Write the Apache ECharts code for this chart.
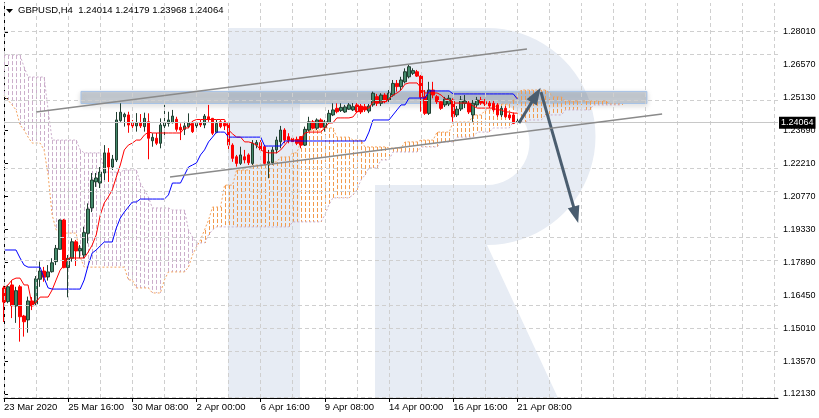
<!DOCTYPE html>
<html><head><meta charset="utf-8">
<script src="https://cdn.jsdelivr.net/npm/echarts/dist/echarts.min.js"></script>
<style>html,body{margin:0;padding:0;background:#fff}#c{width:819px;height:418px}</style>
</head><body><div id="c"></div>
<script>
// ---------- tick labels ----------
const xTickLabels = ['23 Mar 2020','25 Mar 16:00','30 Mar 08:00','2 Apr 00:00','6 Apr 16:00','9 Apr 08:00','14 Apr 00:00','16 Apr 16:00','21 Apr 08:00'];
const yTickValues = [1.1213,1.1357,1.1501,1.1645,1.1789,1.1933,1.2077,1.2221,1.2365,1.2509,1.2653,1.2797];
const yTickLabels = ['1.12130','1.13570','1.15010','1.16450','1.17890','1.19330','1.20770','1.22210','1.23690','1.25130','1.26570','1.28010'];

// ---------- candles (H4 bars) ----------
const opens = [1.1677,1.1617,1.1690,1.1598,1.1682,1.1554,1.1537,1.1620,1.1607,1.1715,
1.1751,1.1725,1.1748,1.1792,1.1846,1.1974,1.1766,1.1807,1.1879,1.1839,
1.1821,1.1916,1.2027,1.2141,1.2136,1.2180,1.2268,1.2206,1.2237,1.2409,
1.2426,1.2434,1.2400,1.2386,1.2399,1.2383,1.2404,1.2321,1.2332,1.2310,
1.2386,1.2397,1.2400,1.2415,1.2380,1.2371,1.2383,1.2397,1.2386,1.2399,
1.2390,1.2426,1.2419,1.2358,1.2404,1.2397,1.2397,1.2302,1.2251,1.2222,
1.2251,1.2259,1.2222,1.2302,1.2313,1.2295,1.2222,1.2225,1.2281,1.2317,
1.2368,1.2339,1.2332,1.2327,1.2339,1.2302,1.2368,1.2404,1.2376,1.2412,
1.2380,1.2400,1.2434,1.2463,1.2453,1.2447,1.2459,1.2456,1.2478,1.2473,
1.2470,1.2451,1.2478,1.2514,1.2485,1.2521,1.2499,1.2521,1.2572,1.2558,
1.2579,1.2601,1.2616,1.2623,1.2604,1.2514,1.2441,1.2543,1.2514,1.2492,
1.2478,1.2482,1.2499,1.2434,1.2460,1.2485,1.2485,1.2434,1.2478,1.2499,
1.2492,1.2486,1.2485,1.2478,1.2434,1.2463,1.2434,1.2434,1.24014];
const closes = [1.1615,1.1682,1.1599,1.1665,1.1551,1.1529,1.1620,1.1598,1.1717,1.1751,
1.1724,1.1747,1.1787,1.1850,1.1974,1.1766,1.1807,1.1879,1.1839,1.1850,
1.1919,1.2022,1.2149,1.2158,1.2184,1.2268,1.2206,1.2241,1.2412,1.2446,
1.2437,1.2390,1.2386,1.2400,1.2386,1.2419,1.2332,1.2336,1.2310,1.2390,
1.2400,1.2412,1.2429,1.2371,1.2368,1.2386,1.2400,1.2361,1.2397,1.2390,
1.2429,1.2415,1.2354,1.2397,1.2383,1.2386,1.2302,1.2244,1.2222,1.2259,
1.2237,1.2225,1.2310,1.2313,1.2281,1.2222,1.2229,1.2281,1.2324,1.2368,
1.2324,1.2324,1.2317,1.2310,1.2302,1.2371,1.2404,1.2376,1.2412,1.2380,
1.2404,1.2441,1.2456,1.2448,1.2467,1.2469,1.2478,1.2470,1.2448,1.2447,
1.2456,1.2473,1.2529,1.2485,1.2521,1.2492,1.2529,1.2572,1.2558,1.2587,
1.2623,1.2645,1.2628,1.2604,1.2511,1.2441,1.2543,1.2521,1.2492,1.2463,
1.2504,1.2507,1.2426,1.2459,1.2499,1.2495,1.2447,1.2485,1.2499,1.2486,
1.2482,1.2473,1.2456,1.2434,1.2463,1.2426,1.2421,1.2397,1.24064];
const lows = [1.1528,1.1610,1.1545,1.1524,1.1442,1.1464,1.1481,1.1580,1.1602,1.1682,
1.1704,1.1709,1.1744,1.1777,1.1843,1.1763,1.1636,1.1792,1.1773,1.1807,
1.1807,1.1872,1.2009,1.2119,1.2114,1.2149,1.2141,1.2193,1.2228,1.2404,
1.2383,1.2356,1.2376,1.2361,1.2377,1.2361,1.2240,1.2295,1.2302,1.2288,
1.2346,1.2383,1.2397,1.2361,1.2324,1.2346,1.2376,1.2355,1.2376,1.2381,
1.2376,1.2404,1.2346,1.2354,1.2376,1.2368,1.2281,1.2229,1.2208,1.2215,
1.2222,1.2215,1.2215,1.2288,1.2273,1.2215,1.2157,1.2215,1.2266,1.2288,
1.2310,1.2310,1.2302,1.2302,1.2288,1.2298,1.2361,1.2371,1.2368,1.2376,
1.2361,1.2397,1.2429,1.2441,1.2447,1.2443,1.2456,1.2451,1.2442,1.2438,
1.2447,1.2442,1.2470,1.2473,1.2473,1.2485,1.2491,1.2514,1.2536,1.2543,
1.2572,1.2594,1.2609,1.2600,1.2448,1.2434,1.2434,1.2507,1.2482,1.2456,
1.2469,1.2473,1.2404,1.2425,1.2451,1.2464,1.2438,1.2404,1.2469,1.2478,
1.2473,1.2464,1.2447,1.2425,1.2425,1.2421,1.2412,1.2394,1.23968];
const highs = [1.1686,1.1690,1.1712,1.1682,1.1690,1.1559,1.1639,1.1637,1.1729,1.1792,
1.1769,1.1777,1.1807,1.1865,1.1977,1.1979,1.1821,1.1894,1.1887,1.1865,
1.1945,1.2047,1.2180,1.2180,1.2206,1.2302,1.2289,1.2259,1.2447,1.2485,
1.2444,1.2448,1.2412,1.2442,1.2438,1.2444,1.2441,1.2354,1.2355,1.2419,
1.2478,1.2448,1.2456,1.2426,1.2397,1.2404,1.2441,1.2407,1.2404,1.2412,
1.2438,1.2478,1.2421,1.2412,1.2412,1.2408,1.2400,1.2310,1.2259,1.2295,
1.2281,1.2266,1.2324,1.2324,1.2324,1.2302,1.2281,1.2295,1.2339,1.2386,
1.2376,1.2354,1.2339,1.2339,1.2341,1.2383,1.2426,1.2412,1.2419,1.2419,
1.2412,1.2456,1.2485,1.2485,1.2485,1.2478,1.2486,1.2486,1.2486,1.2482,
1.2482,1.2482,1.2536,1.2526,1.2529,1.2529,1.2543,1.2587,1.2587,1.2601,
1.2638,1.2653,1.2638,1.2631,1.2609,1.2543,1.2579,1.2579,1.2521,1.2499,
1.2513,1.2521,1.2507,1.2473,1.2517,1.2521,1.2495,1.2499,1.2513,1.2513,
1.2504,1.2495,1.2495,1.2486,1.2473,1.2473,1.2443,1.2443,1.24179];

// ---------- Ichimoku lines ----------
const tenkan = [1.1677,1.1690,1.1712,1.1720,1.1720,1.1690,1.1690,1.1602,1.1615,1.1637,
1.1637,1.1637,1.1668,1.1712,1.1755,1.1777,1.1808,1.1808,1.1808,1.1808,
1.1808,1.1834,1.1865,1.1909,1.1996,1.2049,1.2075,1.2106,1.2162,1.2215,
1.2281,1.2302,1.2311,1.2324,1.2324,1.2346,1.2359,1.2355,1.2355,1.2355,
1.2355,1.2355,1.2355,1.2355,1.2355,1.2377,1.2377,1.2407,1.2414,1.2414,
1.2414,1.2414,1.2414,1.2414,1.2414,1.2414,1.2368,1.2351,1.2337,1.2337,
1.2316,1.2316,1.2311,1.2302,1.2281,1.2272,1.2268,1.2268,1.2268,1.2281,
1.2302,1.2324,1.2324,1.2324,1.2324,1.2355,1.2359,1.2359,1.2359,1.2359,
1.2377,1.2399,1.2399,1.2421,1.2421,1.2421,1.2421,1.2425,1.2447,1.2456,
1.2464,1.2464,1.2491,1.2491,1.2491,1.2491,1.2504,1.2521,1.2530,1.2543,
1.2569,1.2574,1.2574,1.2574,1.2552,1.2530,1.2530,1.2530,1.2530,1.2521,
1.2504,1.2499,1.2486,1.2486,1.2486,1.2486,1.2486,1.2473,1.2464,1.2464,
1.2464,1.2464,1.2464,1.2456,1.2456,1.2447,1.2447,1.2442,1.2442];
const kijun = [1.1843,1.1843,1.1843,1.1843,1.1808,1.1777,1.1768,1.1768,1.1768,1.1768,
1.1720,1.1677,1.1672,1.1672,1.1672,1.1672,1.1672,1.1672,1.1672,1.1672,
1.1712,1.1777,1.1830,1.1843,1.1861,1.1878,1.1878,1.1878,1.1939,1.1983,
1.2009,1.2031,1.2053,1.2053,1.2066,1.2066,1.2066,1.2066,1.2066,1.2066,
1.2066,1.2084,1.2136,1.2136,1.2136,1.2171,1.2206,1.2215,1.2224,1.2259,
1.2281,1.2316,1.2337,1.2359,1.2359,1.2359,1.2337,1.2337,1.2337,1.2337,
1.2337,1.2337,1.2337,1.2337,1.2337,1.2298,1.2298,1.2298,1.2298,1.2298,
1.2320,1.2320,1.2320,1.2320,1.2320,1.2320,1.2320,1.2320,1.2320,1.2320,
1.2320,1.2320,1.2320,1.2320,1.2320,1.2320,1.2320,1.2320,1.2320,1.2320,
1.2320,1.2359,1.2412,1.2412,1.2412,1.2412,1.2412,1.2434,1.2456,1.2478,
1.2478,1.2508,1.2508,1.2508,1.2508,1.2508,1.2539,1.2539,1.2539,1.2539,
1.2539,1.2539,1.2526,1.2526,1.2526,1.2526,1.2526,1.2526,1.2526,1.2526,
1.2526,1.2526,1.2526,1.2526,1.2526,1.2526,1.2526,1.2526,1.2504];
const spanA = [1.2521,1.2499,1.2478,1.2456,1.2390,1.2368,1.2337,1.2311,1.2311,1.2311,
1.2281,1.2171,1.1996,1.1931,1.1917,1.1917,1.1917,1.1917,1.1917,1.1812,
1.1768,1.1768,1.1768,1.1768,1.1768,1.1768,1.1768,1.1768,1.1768,1.1768,
1.1768,1.1712,1.1712,1.1677,1.1677,1.1677,1.1677,1.1655,1.1655,1.1655,
1.1712,1.1747,1.1747,1.1747,1.1747,1.1747,1.1768,1.1821,1.1856,1.1887,
1.1931,1.1974,1.2031,1.2031,1.2031,1.2127,1.2127,1.2127,1.2193,1.2193,
1.2193,1.2193,1.2215,1.2215,1.2215,1.2215,1.2228,1.2228,1.2228,1.2250,
1.2250,1.2250,1.2268,1.2268,1.2316,1.2368,1.2368,1.2368,1.2368,1.2368,
1.2377,1.2377,1.2377,1.2337,1.2337,1.2337,1.2337,1.2324,1.2324,1.2324,
1.2294,1.2294,1.2294,1.2294,1.2294,1.2294,1.2289,1.2289,1.2289,1.2289,
1.2316,1.2316,1.2316,1.2316,1.2324,1.2324,1.2324,1.2324,1.2359,1.2359,
1.2359,1.2359,1.2403,1.2403,1.2403,1.2403,1.2403,1.2434,1.2434,1.2434,
1.2456,1.2456,1.2456,1.2482,1.2482,1.2482,1.2482,1.2499,1.2521,1.2543,
1.2543,1.2543,1.2543,1.2543,1.2543,1.2543,1.2530,1.2513,1.2513,1.2513,
1.2495,1.2495,1.2495,1.2495,1.2495,1.2495,1.2495,1.2495,1.2495,1.2495,
1.2495,1.2482,1.2482,1.2482,1.2482];
const spanB = [1.2696,1.2696,1.2696,1.2696,1.2696,1.2644,1.2600,1.2600,1.2600,1.2600,
1.2600,1.2456,1.2324,1.2324,1.2324,1.2324,1.2324,1.2324,1.2324,1.2281,
1.2268,1.2268,1.2268,1.2268,1.2268,1.2184,1.2184,1.2184,1.2184,1.2184,
1.2193,1.2193,1.2193,1.2193,1.2136,1.2106,1.2075,1.2027,1.2027,1.2027,
1.2027,1.2027,1.2018,1.2018,1.2018,1.2018,1.1931,1.1900,1.1874,1.1874,
1.1874,1.1909,1.1931,1.1944,1.1944,1.1944,1.1944,1.1944,1.1944,1.1944,
1.1944,1.1944,1.1944,1.1944,1.1944,1.1944,1.1944,1.1944,1.1944,1.1944,
1.1944,1.1944,1.1966,1.1966,1.1966,1.1966,1.1966,1.1966,1.1966,1.1966,
1.1996,1.2040,1.2071,1.2071,1.2071,1.2071,1.2071,1.2084,1.2106,1.2149,
1.2171,1.2202,1.2202,1.2202,1.2237,1.2237,1.2237,1.2272,1.2272,1.2272,
1.2272,1.2272,1.2272,1.2272,1.2294,1.2294,1.2294,1.2294,1.2294,1.2316,
1.2316,1.2316,1.2316,1.2337,1.2337,1.2337,1.2337,1.2337,1.2359,1.2359,
1.2359,1.2359,1.2377,1.2377,1.2377,1.2377,1.2377,1.2403,1.2403,1.2403,
1.2403,1.2412,1.2412,1.2412,1.2412,1.2434,1.2434,1.2434,1.2434,1.2434,
1.2456,1.2456,1.2456,1.2456,1.2456,1.2456,1.2456,1.2478,1.2478,1.2478,
1.2478,1.2478,1.2478,1.2478,1.2478];

// ---------- annotations (bar index, price) ----------
const lastPrice = 1.24064;
const trendUpper = [[8.0, 1.2447], [130.4, 1.2723]];
const trendLower = [[41.4, 1.2162], [164.1, 1.2438]];
const arrowUp = [[128.4, 1.2399], [132.7, 1.2521]];
const arrowDown = [[133.9, 1.2534], [142.6, 1.1997]];
const zone = [[19.2, 1.2537], [160.3, 1.2484]];

const SLOTS = 194;
const Y_MIN = 1.11953, Y_MAX = 1.29239;
const FONT = '"Liberation Sans", Arial, sans-serif';
const GRID_COLOR = '#cfcfcf';
const UP_CLOUD = '#f29a4c', DOWN_CLOUD = '#cbaecb';

const cats = [];
for (let i = 0; i < SLOTS; i++) cats.push(String(i));
const candles = opens.map((o, i) => [o, closes[i], lows[i], highs[i]]);
const cloud = spanA.map((a, i) => [i, Math.max(a, spanB[i]), Math.min(a, spanB[i])]);
const xShow = (i) => i % 16 === 0 && i <= 128;
const vGrid = [];
for (let i = 0; i < SLOTS; i += 8) vGrid.push({ xAxis: i });
const hGrid = yTickValues.map(v => ({ yAxis: v }));

// watermark outline (decorative "R" logo, pixel space)
function arcPts(cx, cy, r, a0, a1, n) {
  const out = [];
  for (let k = 0; k <= n; k++) { const t = a0 + (a1 - a0) * k / n; out.push([cx + r * Math.cos(t), cy + r * Math.sin(t)]); }
  return out;
}
const logo = [[228, 28]]
  .concat(arcPts(487, 136.5, 108.5, -Math.PI / 2, Math.PI / 2, 40))
  .concat([[558, 398], [375, 398], [375, 185]])
  .concat(arcPts(487, 142.5, 42.5, Math.PI / 2, -Math.PI / 2, 24))
  .concat([[300, 100], [300, 398], [228, 398]]);

const chart = echarts.init(document.getElementById('c'));
chart.setOption({
  animation: false,
  backgroundColor: '#ffffff',
  title: {
    text: 'GBPUSD,H4  1.24014 1.24179 1.23968 1.24064',
    left: 18, top: 5, padding: 0,
    textStyle: { fontSize: 9.5, fontWeight: 'normal', color: '#000', fontFamily: FONT }
  },
  graphic: [
    { type: 'polygon', z: -10, silent: true, shape: { points: logo }, style: { fill: '#e7ecf4' } },
    { type: 'polygon', silent: true, shape: { points: [[6, 9], [13, 9], [9.5, 13]] }, style: { fill: '#000' } }
  ],
  grid: { left: 4, right: 41, top: 3, bottom: 20 },
  xAxis: [
    { type: 'category', data: cats, boundaryGap: false,
      axisLine: { lineStyle: { color: '#000' } },
      axisTick: { interval: xShow, length: 4, lineStyle: { color: '#000' } },
      axisLabel: { interval: xShow, formatter: (v, i) => xTickLabels[i / 16] || '', align: 'left',
        color: '#000', fontSize: 9.5, fontFamily: FONT, margin: 4 },
      splitLine: { show: false } },
    { type: 'value', min: 0, max: SLOTS - 1, show: false }
  ],
  yAxis: [
    { type: 'value', position: 'right', min: Y_MIN, max: Y_MAX,
      axisLine: { show: true, lineStyle: { color: '#000' } },
      axisTick: { show: true, customValues: yTickValues, length: 4, lineStyle: { color: '#000' } },
      axisLabel: { customValues: yTickValues, color: '#000', fontSize: 9, fontFamily: FONT, margin: 5,
        formatter: (v) => { const k = yTickValues.findIndex(t => Math.abs(t - v) < 1e-6); return k >= 0 ? yTickLabels[k] : ''; } },
      splitLine: { show: false } },
    { type: 'value', position: 'left', min: Y_MIN, max: Y_MAX,
      axisLine: { show: true, lineStyle: { color: '#000' } },
      axisTick: { show: false }, axisLabel: { show: false }, splitLine: { show: false } }
  ],
  series: [
    { type: 'line', name: 'grid', xAxisIndex: 1, data: [], z: 0, silent: true,
      markLine: { silent: true, symbol: 'none', animation: false, label: { show: false },
        lineStyle: { color: GRID_COLOR, width: 1, type: [4, 3] },
        data: vGrid.concat(hGrid) } },
    { type: 'custom', name: 'cloud', data: cloud, z: 1, silent: true, clip: true,
      encode: { x: 0, y: [1, 2] },
      renderItem: (params, api) => {
        const idx = params.dataIndex;
        const i = api.value(0);
        const p1 = api.coord([i, api.value(1)]), p2 = api.coord([i, api.value(2)]);
        const x = Math.round(p1[0]) + 0.5;
        const col = spanA[idx] >= spanB[idx] ? UP_CLOUD : DOWN_CLOUD;
        return { type: 'line', shape: { x1: x, y1: p1[1], x2: x, y2: p2[1] },
          style: { stroke: col, lineWidth: 1, lineDash: [4, 2] } };
      } },
    { type: 'line', name: 'spanA', data: spanA, z: 2, showSymbol: false, silent: true,
      lineStyle: { color: '#f4a460', width: 1, type: [2, 2] } },
    { type: 'line', name: 'spanB', data: spanB, z: 2, showSymbol: false, silent: true,
      lineStyle: { color: DOWN_CLOUD, width: 1, type: [2, 2] } },
    { type: 'candlestick', name: 'GBPUSD', data: candles, z: 3, barWidth: 3,
      itemStyle: { color: '#43896a', borderColor: '#213f31', color0: '#ff0000', borderColor0: '#ff0000', borderWidth: 1 } },
    { type: 'line', name: 'tenkan', data: tenkan, z: 4, showSymbol: false, silent: true,
      lineStyle: { color: '#ff0000', width: 1 } },
    { type: 'line', name: 'kijun', data: kijun, z: 4, showSymbol: false, silent: true,
      lineStyle: { color: '#0000ff', width: 1 } },
    { type: 'line', name: 'price', data: [], z: 4, silent: true,
      markLine: { silent: true, symbol: 'none', animation: false,
        lineStyle: { color: '#c8c8c8', width: 1, type: 'solid' },
        label: { show: true, position: 'end', distance: 1, formatter: lastPrice.toFixed(5),
          backgroundColor: '#000', color: '#fff', fontSize: 9, fontFamily: FONT, padding: [2, 2, 1, 2] },
        data: [{ yAxis: lastPrice }] } },
    { type: 'line', name: 'zone', xAxisIndex: 1, data: [], z: 5, silent: true,
      markArea: { silent: true,
        itemStyle: { color: 'rgba(125,140,160,0.36)', borderColor: '#a6c2e6', borderWidth: 1,
          shadowBlur: 5, shadowOffsetY: 2, shadowColor: 'rgba(0,0,0,0.25)' },
        data: [[{ coord: zone[0] }, { coord: zone[1] }]] } },
    { type: 'line', name: 'trendUpper', xAxisIndex: 1, data: trendUpper, z: 6, showSymbol: false, silent: true,
      lineStyle: { color: '#8a8a8a', width: 1.5 } },
    { type: 'line', name: 'trendLower', xAxisIndex: 1, data: trendLower, z: 6, showSymbol: false, silent: true,
      lineStyle: { color: '#8a8a8a', width: 1.5 } },
    { type: 'line', name: 'arrows', xAxisIndex: 1, data: [], z: 7, silent: true,
      markLine: { silent: true, animation: false, label: { show: false },
        lineStyle: { color: '#4a5d6f', width: 3, type: 'solid' },
        data: [
          [{ coord: arrowUp[0], symbol: 'none' }, { coord: arrowUp[1], symbol: 'triangle', symbolSize: [12, 17] }],
          [{ coord: arrowDown[0], symbol: 'none' }, { coord: arrowDown[1], symbol: 'triangle', symbolSize: [12, 17] }]
        ] } }
  ]
});
</script>
</body></html>
